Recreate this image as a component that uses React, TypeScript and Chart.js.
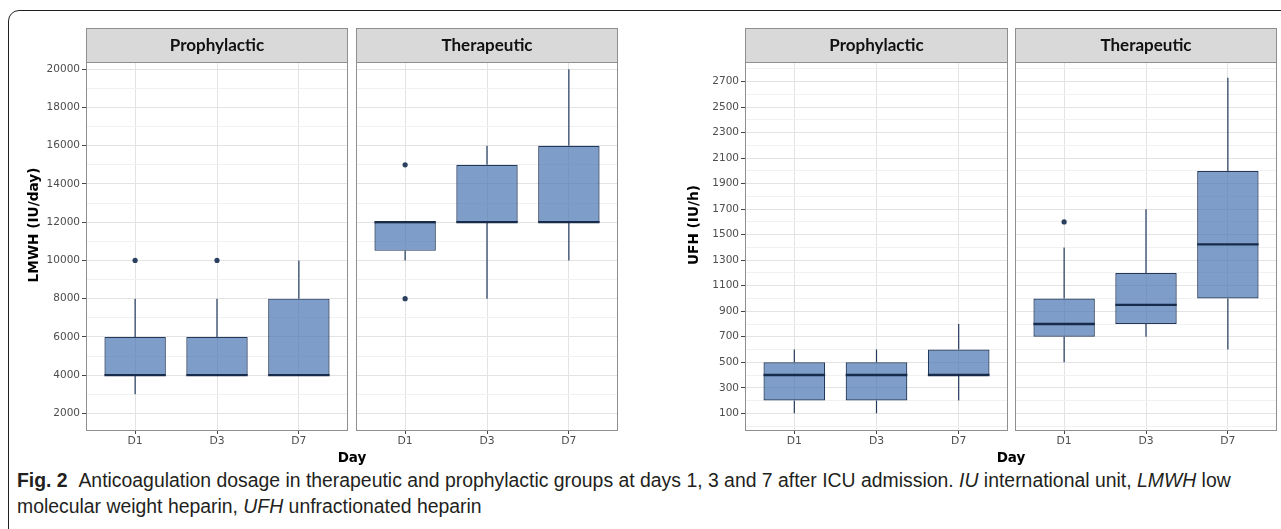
import React, { useEffect, useRef } from "react";
import { Chart, registerables } from "chart.js";

Chart.register(...registerables);

// ---------------- data ----------------
const categories = ["D1", "D3", "D7"];
const categoryPositions = [1, 2, 3];

// LMWH (IU/day) – Prophylactic
const lmwhProphLow = [3000, 4000, 4000];
const lmwhProphQ1 = [4000, 4000, 4000];
const lmwhProphMedian = [4000, 4000, 4000];
const lmwhProphQ3 = [6000, 6000, 8000];
const lmwhProphHigh = [8000, 8000, 10000];
const lmwhProphOutliers = [
  { day: "D1", value: 10000 },
  { day: "D3", value: 10000 },
];

// LMWH (IU/day) – Therapeutic
const lmwhTherLow = [10000, 8000, 10000];
const lmwhTherQ1 = [10500, 12000, 12000];
const lmwhTherMedian = [12000, 12000, 12000];
const lmwhTherQ3 = [12000, 15000, 16000];
const lmwhTherHigh = [12000, 16000, 20000];
const lmwhTherOutliers = [
  { day: "D1", value: 15000 },
  { day: "D1", value: 8000 },
];

// UFH (IU/h) – Prophylactic
const ufhProphLow = [100, 100, 200];
const ufhProphQ1 = [200, 200, 400];
const ufhProphMedian = [400, 400, 400];
const ufhProphQ3 = [500, 500, 600];
const ufhProphHigh = [600, 600, 800];
const ufhProphOutliers: { day: string; value: number }[] = [];

// UFH (IU/h) – Therapeutic
const ufhTherLow = [500, 700, 600];
const ufhTherQ1 = [700, 800, 1000];
const ufhTherMedian = [800, 950, 1425];
const ufhTherQ3 = [1000, 1200, 2000];
const ufhTherHigh = [1400, 1700, 2730];
const ufhTherOutliers = [{ day: "D1", value: 1600 }];

// tick labels
const lmwhTickLabels = [2000, 4000, 6000, 8000, 10000, 12000, 14000, 16000, 18000, 20000];
const ufhTickLabels = [100, 300, 500, 700, 900, 1100, 1300, 1500, 1700, 1900, 2100, 2300, 2500, 2700];
const lmwhRange = [1130, 20380];
const ufhRange = [-31, 2854];

// ---------------- styles ----------------
const BOX_FILL = "rgba(72,115,178,0.70)";
const BOX_BORDER = "#22395c";
const MEDIAN = "#172b4b";
const OUTLIER = "#2b3f5e";
const GRID_MAJOR = "#e3e3e3";
const GRID_MINOR = "#f1f1f1";
const PANEL_BORDER = "#8f8f8f";
const STRIP_FILL = "#d9d9d9";
const TICK_MARK = "#444444";
const TICK_LABEL = "#4d4d4d";

// major ticks plus ggplot-style minor ticks half-way between them
function tickValues(labels: number[], range: number[]): number[] {
  const half = (labels[1] - labels[0]) / 2;
  const set = new Set<number>();
  labels.forEach((m) => {
    set.add(m);
    set.add(m - half);
    set.add(m + half);
  });
  return Array.from(set)
    .filter((v) => v >= range[0] && v <= range[1])
    .sort((a, b) => a - b);
}

interface PanelProps {
  left: number;
  top: number;
  width: number;
  height: number;
  padLeft: number;
  padRight: number;
  stripHeight: number;
  yAxisWidth: number;
  xAxisHeight: number;
  showYTicks: boolean;
  strip: string;
  yRange: number[];
  yMajor: number[];
  low: number[];
  q1: number[];
  median: number[];
  q3: number[];
  high: number[];
  outliers: { day: string; value: number }[];
  yTitle?: string;
  yTitlePos?: number[]; // page coords
}

function Panel(p: PanelProps) {
  const ref = useRef<HTMLCanvasElement>(null);
  useEffect(() => {
    const canvas = ref.current;
    if (!canvas) return;
    const isMajor = (v: number) => p.yMajor.includes(v);
    const yTicks = tickValues(p.yMajor, p.yRange);

    const extras = {
      id: "boxExtras",
      beforeDatasetsDraw(chart: any) {
        const meta = chart.getDatasetMeta(0);
        const ys = chart.scales.y;
        const ctx = chart.ctx;
        ctx.save();
        ctx.strokeStyle = BOX_BORDER;
        ctx.lineWidth = 1.2;
        meta.data.forEach((el: any, i: number) => {
          const x = el.x;
          ctx.beginPath();
          if (p.high[i] > p.q3[i]) {
            ctx.moveTo(x, ys.getPixelForValue(p.q3[i]));
            ctx.lineTo(x, ys.getPixelForValue(p.high[i]));
          }
          if (p.low[i] < p.q1[i]) {
            ctx.moveTo(x, ys.getPixelForValue(p.q1[i]));
            ctx.lineTo(x, ys.getPixelForValue(p.low[i]));
          }
          ctx.stroke();
        });
        ctx.restore();
      },
      afterDatasetsDraw(chart: any) {
        const meta = chart.getDatasetMeta(0);
        const ys = chart.scales.y;
        const ctx = chart.ctx;
        ctx.save();
        ctx.strokeStyle = MEDIAN;
        ctx.lineWidth = 2.3;
        meta.data.forEach((el: any, i: number) => {
          const y = ys.getPixelForValue(p.median[i]);
          ctx.beginPath();
          ctx.moveTo(el.x - el.width / 2, y);
          ctx.lineTo(el.x + el.width / 2, y);
          ctx.stroke();
        });
        ctx.restore();
      },
      afterDraw(chart: any) {
        const ctx = chart.ctx;
        const a = chart.chartArea;
        ctx.save();
        // panel border
        ctx.strokeStyle = PANEL_BORDER;
        ctx.lineWidth = 1;
        const L = Math.round(a.left) + 0.5;
        const W = Math.round(a.right - a.left) - 1;
        ctx.strokeRect(L, Math.round(a.top) + 0.5, W, Math.round(a.bottom - a.top));
        // strip
        const sTop = Math.round(a.top) - p.stripHeight;
        ctx.fillStyle = STRIP_FILL;
        ctx.fillRect(L, sTop + 0.5, W, p.stripHeight);
        ctx.strokeRect(L, sTop + 0.5, W, p.stripHeight);
        ctx.fillStyle = "#111111";
        ctx.font = "bold 17px Lato";
        ctx.textAlign = "center";
        ctx.textBaseline = "middle";
        ctx.fillText(p.strip, (a.left + a.right) / 2, sTop + p.stripHeight / 2 + 1);
        // y title
        if (p.yTitle && p.yTitlePos) {
          ctx.translate(p.yTitlePos[0] - p.left, p.yTitlePos[1] - p.top);
          ctx.rotate(-Math.PI / 2);
          ctx.font = 'bold 13.7px "DejaVu Sans"';
          ctx.fillStyle = "#000000";
          ctx.fillText(p.yTitle, 0, 0);
        }
        ctx.restore();
      },
    };

    const chart = new Chart(canvas, {
      type: "bar",
      data: {
        datasets: [
          {
            type: "bar",
            label: "Interquartile range",
            data: categoryPositions.map((x, i) => ({ x, y: [p.q1[i], p.q3[i]] })) as any,
            backgroundColor: BOX_FILL,
            borderColor: BOX_BORDER,
            borderWidth: 1.2,
            borderSkipped: false,
            categoryPercentage: 0.75,
            barPercentage: 1,
          } as any,
          {
            type: "scatter",
            label: "Outliers",
            data: p.outliers.map((o) => ({
              x: categoryPositions[categories.indexOf(o.day)],
              y: o.value,
            })),
            pointRadius: 2.6,
            pointBackgroundColor: OUTLIER,
            pointBorderWidth: 0,
          } as any,
        ],
      },
      options: {
        animation: false,
        responsive: false,
        maintainAspectRatio: false,
        layout: { padding: { left: p.padLeft, right: p.padRight, top: p.stripHeight, bottom: 0 } },
        plugins: { legend: { display: false }, tooltip: { enabled: false } },
        scales: {
          x: {
            type: "linear",
            min: 0.4,
            max: 3.6,
            offset: false,
            ticks: {
              autoSkip: false,
              maxRotation: 0,
              color: TICK_LABEL,
              font: { family: "DejaVu Sans", size: 10.8 },
              padding: 1,
              callback: (v: any) => {
                const idx = categoryPositions.indexOf(Number(v));
                return idx >= 0 ? categories[idx] : "";
              },
            },
            afterBuildTicks: (s: any) => {
              s.ticks = categoryPositions.map((v) => ({ value: v }));
            },
            grid: {
              offset: false,
              color: GRID_MAJOR,
              tickColor: TICK_MARK,
              tickLength: 4,
              lineWidth: 1,
            },
            border: { display: false },
            afterFit: (s: any) => {
              s.height = p.xAxisHeight;
            },
          } as any,
          y: {
            type: "linear",
            min: p.yRange[0],
            max: p.yRange[1],
            ticks: {
              display: p.showYTicks,
              autoSkip: false,
              color: TICK_LABEL,
              font: { family: "DejaVu Sans", size: 10.5 },
              padding: 2,
              callback: (v: any) => (isMajor(Number(v)) ? String(v) : ""),
            },
            afterBuildTicks: (s: any) => {
              s.ticks = yTicks.map((v) => ({ value: v }));
            },
            grid: {
              color: (c: any) => (c.tick && isMajor(c.tick.value) ? GRID_MAJOR : GRID_MINOR),
              tickColor: (c: any) => (c.tick && isMajor(c.tick.value) ? TICK_MARK : "rgba(0,0,0,0)"),
              drawTicks: p.showYTicks,
              tickLength: 4,
              lineWidth: 1,
            },
            border: { display: false },
            afterFit: (s: any) => {
              s.width = p.yAxisWidth;
            },
          } as any,
        },
      },
      plugins: [extras],
    });
    return () => chart.destroy();
  }, []);
  return (
    <canvas
      ref={ref}
      width={p.width}
      height={p.height}
      style={{ position: "absolute", left: p.left, top: p.top, width: p.width, height: p.height }}
    />
  );
}

export default function App() {
  const common = { top: 28, height: 427, stripHeight: 34, xAxisHeight: 25 };
  return (
    <div
      style={{
        position: "absolute",
        left: 0,
        top: 0,
        width: 1281,
        height: 529,
        overflow: "hidden",
        background: "#ffffff",
      }}
    >
      <div
        style={{
          position: "absolute",
          left: 8,
          top: 10,
          width: 1300,
          height: 560,
          border: "1px solid #231f20",
          borderTopLeftRadius: 11,
          boxSizing: "border-box",
        }}
      />
      <Panel
        {...common}
        left={0}
        width={352}
        padLeft={0}
        padRight={4}
        yAxisWidth={86}
        showYTicks={true}
        strip="Prophylactic"
        yRange={lmwhRange}
        yMajor={lmwhTickLabels}
        low={lmwhProphLow}
        q1={lmwhProphQ1}
        median={lmwhProphMedian}
        q3={lmwhProphQ3}
        high={lmwhProphHigh}
        outliers={lmwhProphOutliers}
        yTitle="LMWH (IU/day)"
        yTitlePos={[34, 225]}
      />
      <Panel
        {...common}
        left={352}
        width={270}
        padLeft={4}
        padRight={4}
        yAxisWidth={0}
        showYTicks={false}
        strip="Therapeutic"
        yRange={lmwhRange}
        yMajor={lmwhTickLabels}
        low={lmwhTherLow}
        q1={lmwhTherQ1}
        median={lmwhTherMedian}
        q3={lmwhTherQ3}
        high={lmwhTherHigh}
        outliers={lmwhTherOutliers}
      />
      <Panel
        {...common}
        left={660}
        width={352}
        padLeft={0}
        padRight={4}
        yAxisWidth={85}
        showYTicks={true}
        strip="Prophylactic"
        yRange={ufhRange}
        yMajor={ufhTickLabels}
        low={ufhProphLow}
        q1={ufhProphQ1}
        median={ufhProphMedian}
        q3={ufhProphQ3}
        high={ufhProphHigh}
        outliers={ufhProphOutliers}
        yTitle="UFH (IU/h)"
        yTitlePos={[694, 225]}
      />
      <Panel
        {...common}
        left={1011}
        width={270}
        padLeft={4}
        padRight={3}
        yAxisWidth={0}
        showYTicks={false}
        strip="Therapeutic"
        yRange={ufhRange}
        yMajor={ufhTickLabels}
        low={ufhTherLow}
        q1={ufhTherQ1}
        median={ufhTherMedian}
        q3={ufhTherQ3}
        high={ufhTherHigh}
        outliers={ufhTherOutliers}
      />
      {[352, 1011].map((cx) => (
        <div
          key={cx}
          style={{
            position: "absolute",
            left: cx - 40,
            width: 80,
            top: 448,
            textAlign: "center",
            fontFamily: '"DejaVu Sans"',
            fontWeight: "bold",
            fontSize: 13.5,
            lineHeight: "18px",
            color: "#000",
          }}
        >
          Day
        </div>
      ))}
      <div
        style={{
          position: "absolute",
          left: 17,
          top: 467,
          whiteSpace: "nowrap",
          fontFamily: '"Liberation Sans Narrow", "Liberation Sans", sans-serif',
          fontSize: 19.4,
          lineHeight: "26px",
          color: "#231f20",
        }}
      >
        <b>Fig. 2</b>&nbsp;&nbsp;Anticoagulation dosage in therapeutic and prophylactic groups at days 1, 3 and 7 after ICU
        admission. <i>IU</i> international unit, <i>LMWH</i> low
        <br />
        molecular weight heparin, <i>UFH</i> unfractionated heparin
      </div>
    </div>
  );
}
